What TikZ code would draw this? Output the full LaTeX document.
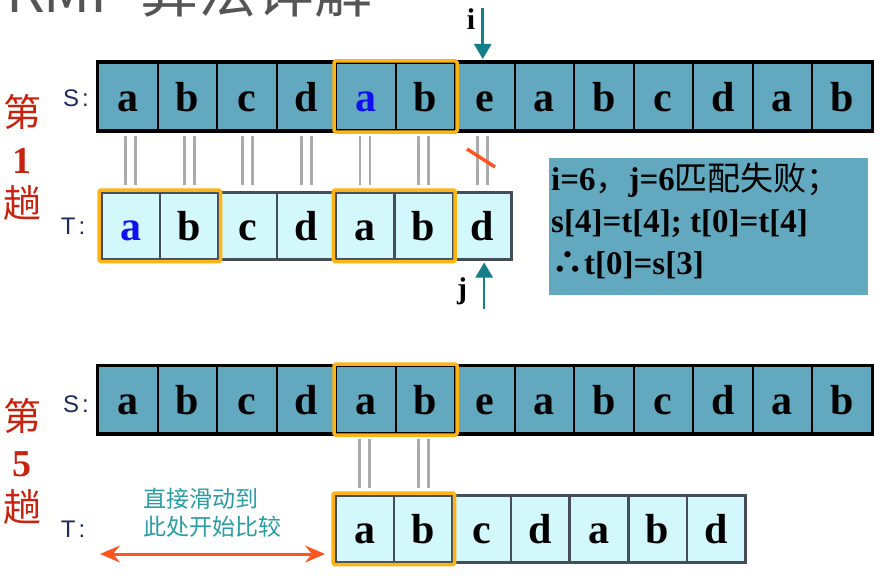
\documentclass[tikz,border=0pt]{standalone}
\usepackage{fontspec}
\setmainfont{Liberation Serif}
\newfontfamily\cjk{Noto Sans CJK SC}
\newfontfamily\lsans{Liberation Sans}
\usetikzlibrary{arrows.meta,calc}
\definecolor{sfill}{HTML}{62A9BF}
\definecolor{tfill}{HTML}{D3F8FC}
\definecolor{tline}{HTML}{454D59}
\definecolor{oboxc}{HTML}{FDB515}
\definecolor{tealA}{HTML}{147F88}
\definecolor{redA}{HTML}{FF5521}
\definecolor{lblred}{HTML}{C8230E}
\definecolor{navy}{HTML}{1C2A5C}
\definecolor{blueA}{HTML}{1010F0}
\definecolor{eqgray}{HTML}{ABABAB}
\definecolor{hint}{HTML}{2A9DA2}
\definecolor{titlegray}{HTML}{555555}
\tikzset{
  cellbase/.style={minimum height=67pt, inner sep=0pt, anchor=north west,
    font=\fontsize{42}{44}\selectfont\bfseries, text height=29pt, text depth=0pt},
  scell/.style={cellbase, draw=black, line width=2pt, fill=sfill, minimum width=59.5pt},
  tcell/.style={cellbase, draw=tline, line width=2.5pt, fill=tfill, minimum width=58.6pt},
  obox/.style={draw=oboxc, line width=3.5pt, rounded corners=1.5pt},
  eqline/.style={draw=eqgray, line width=2.8pt},
  ptr/.style={draw=tealA, line width=2.6pt, -{Triangle[width=17pt,length=15pt]}},
  ptrlab/.style={font=\fontsize{30}{32}\selectfont\bfseries, inner sep=0pt},
  rowlab/.style={text=navy, font=\lsans\fontsize{24}{26}\selectfont, inner sep=0pt},
  passlab/.style={text=lblred, inner sep=0pt},
  infotext/.style={anchor=base west, inner sep=0pt, font=\fontsize{33}{36}\selectfont\bfseries},
  hinttext/.style={anchor=west, text=hint, inner sep=0pt, font=\cjk\fontsize{23}{24}\selectfont},
  slide/.style={draw=redA, line width=3pt, {Stealth[width=17pt,length=20pt,inset=7pt]}-{Stealth[width=17pt,length=20pt,inset=7pt]}},
}
\begin{document}
\begin{tikzpicture}[x=1pt,y=-1pt]
\useasboundingbox (0,0) rectangle (882,575);
\clip (0,0) rectangle (882,575);
\fill[white] (0,0) rectangle (882,575);

% title (cut off at top, as in the reference)
\node[anchor=base west, inner sep=0pt, text=titlegray, font=\cjk\fontsize{58}{60}\selectfont] (title) at (6,13) {KMP 算法详解};

% ---------- pass 1 ----------
\foreach \c [count=\i from 0] in {a,b,c,d,{\textcolor{blueA}{a}},b,e,a,b,c,d,a,b}
  \node[scell] (s1-\i) at ({97+59.5*\i},62) {\c};
\draw[line width=3pt] (s1-0.north west) rectangle (s1-12.south east);
\foreach \c [count=\i from 0] in {{\textcolor{blueA}{a}},b,c,d,a,b,d}
  \node[tcell] (t1-\i) at ({100+58.6*\i},191) {\c};
\draw[obox] ($(s1-4.north west)+(-1,-1)$) rectangle ($(s1-5.south east)+(1,1)$);
\draw[obox] ($(t1-0.north west)+(-1,-1)$) rectangle ($(t1-1.south east)+(1,1)$);
\draw[obox] ($(t1-4.north west)+(-1,-1)$) rectangle ($(t1-5.south east)+(1,1)$);

\foreach \i in {0,...,6}{
  \draw[eqline] ($(t1-\i.north)+(-5,-6)$) -- ($(t1-\i.north |- s1-\i.south)+(-5,5)$);
  \draw[eqline] ($(t1-\i.north)+(5,-6)$) -- ($(t1-\i.north |- s1-\i.south)+(5,5)$);
}
\coordinate (x1) at (467,149);
\coordinate (x2) at (495,167);
\draw[draw=redA, line width=3.5pt] (x1) -- (x2);

\node[ptrlab] (ilab) at (471,19) {i};
\draw[ptr] ($(s1-6.north)+(-2,-54)$) -- ($(s1-6.north)+(-2,-3)$);
\node[ptrlab, anchor=base] (jlab) at (462,298) {j};
\draw[ptr] ($(t1-6.south)+(2,48)$) -- ($(t1-6.south)+(2,2)$);

\node[rowlab] (sl1) at (76,98) {S\hspace{3pt}:};
\node[rowlab] (tl1) at (73,226) {T\hspace{3pt}:};

\node[passlab, font=\cjk\fontsize{38}{40}\selectfont] (p1a) at (22,112) {第};
\node[passlab, font=\fontsize{38}{40}\selectfont\bfseries] (p1b) at (22,161) {1};
\node[passlab, font=\cjk\fontsize{38}{40}\selectfont] (p1c) at (22,203) {趟};

% info box
\node[anchor=north west, fill=sfill, minimum width=319pt, minimum height=137pt, inner sep=0pt] (info) at (549,158) {};
\node[infotext] (inf1) at (551,190) {i=6{\cjk\mdseries ，}j=6{\cjk\mdseries 匹配失败；}};
\node[infotext] (inf2) at (551,232) {s[4]=t[4]; t[0]=t[4]};
\node[infotext] (inf3) at (551,274) {{\cjk ∴}t[0]=s[3]};

% ---------- pass 5 ----------
\foreach \c [count=\i from 0] in {a,b,c,d,a,b,e,a,b,c,d,a,b}
  \node[scell] (s2-\i) at ({97+59.5*\i},365) {\c};
\draw[line width=3pt] (s2-0.north west) rectangle (s2-12.south east);
\foreach \c [count=\i from 0] in {a,b,c,d,a,b,d}
  \node[tcell] (t2-\i) at ({334+58.6*\i},494) {\c};
\draw[obox] ($(s2-4.north west)+(-1,-1)$) rectangle ($(s2-5.south east)+(1,1)$);
\draw[obox] ($(t2-0.north west)+(-1,-1)$) rectangle ($(t2-1.south east)+(1,1)$);

\foreach \i in {0,1}{
  \draw[eqline] ($(t2-\i.north)+(-5,-6)$) -- ($(t2-\i.north |- s2-4.south)+(-5,5)$);
  \draw[eqline] ($(t2-\i.north)+(5,-6)$) -- ($(t2-\i.north |- s2-4.south)+(5,5)$);
}

\node[rowlab] (sl2) at (76,404) {S\hspace{3pt}:};
\node[rowlab] (tl2) at (73,529) {T\hspace{3pt}:};

\node[passlab, font=\cjk\fontsize{38}{40}\selectfont] (p5a) at (22,416) {第};
\node[passlab, font=\fontsize{38}{40}\selectfont\bfseries] (p5b) at (22,464) {5};
\node[passlab, font=\cjk\fontsize{38}{40}\selectfont] (p5c) at (22,507) {趟};

\node[hinttext] (h1) at (143,499) {直接滑动到};
\node[hinttext] (h2) at (143,527) {此处开始比较};
\coordinate (sl) at (100,554);
\draw[slide] (sl) -- ($(t2-0.south west |- sl)+(-9,0)$);
\end{tikzpicture}
\end{document}
